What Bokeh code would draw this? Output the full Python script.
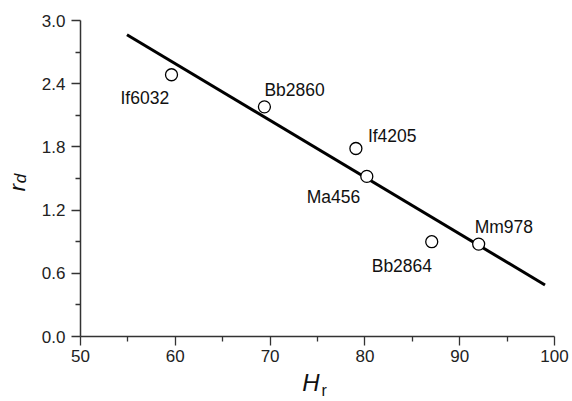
from bokeh.plotting import figure
from bokeh.models import ColumnDataSource, LabelSet, FixedTicker, Range1d, LinearAxis
from bokeh.core.properties import value
from bokeh.embed import file_html
from bokeh.resources import INLINE

# data
names = ["If6032", "Bb2860", "If4205", "Ma456", "Bb2864", "Mm978"]
hr = [59.6, 69.4, 79.05, 80.2, 87.05, 92.0]
rd = [2.485, 2.18, 1.785, 1.52, 0.90, 0.877]
fit_x = [54.9, 99.0]
fit_y = [2.864, 0.489]
x_ticks = [50, 60, 70, 80, 90, 100]
y_ticks = [0.0, 0.6, 1.2, 1.8, 2.4, 3.0]

# label offsets (pixels) for point annotations
lab_dx = [-51, 0, 12, -60, -60, -4]
lab_dy = [-23, 17, 12, -21, -24, 17]

FONT = "Liberation Sans"
NB = "\u00a0"

p = figure(width=572, height=401, output_backend="svg", toolbar_location=None,
           x_range=Range1d(50, 100), y_range=Range1d(0, 3.0),
           min_border_left=80, min_border_right=18, min_border_top=20, min_border_bottom=63)
p.outline_line_color = None
p.grid.visible = False
p.background_fill_color = "white"
p.border_fill_color = "white"

for ax in (p.xaxis[0], p.yaxis[0]):
    ax.axis_line_color = "#333333"
    ax.axis_line_width = 1.5
    ax.major_tick_line_color = "#333333"
    ax.minor_tick_line_color = "#333333"
    ax.major_tick_line_width = 1.3
    ax.minor_tick_line_width = 1.3
    ax.major_tick_in = 0
    ax.minor_tick_in = 0
    ax.major_tick_out = 9
    ax.minor_tick_out = 5
    ax.major_label_text_font = FONT
    ax.major_label_text_font_size = "17px"
    ax.major_label_text_color = "#222222"
    ax.axis_label_text_font = FONT
    ax.axis_label_text_font_style = "italic"
    ax.axis_label_text_color = "#111111"

p.xaxis.ticker = FixedTicker(ticks=x_ticks, minor_ticks=[55, 65, 75, 85, 95])
p.yaxis.ticker = FixedTicker(ticks=y_ticks, minor_ticks=[0.3, 0.9, 1.5, 2.1, 2.7])
p.yaxis.major_label_overrides = {t: f"{t:.1f}" for t in y_ticks}
p.xaxis.major_label_standoff = 4
p.yaxis.major_label_standoff = 6

# axis titles: main letter on the inner axis / subscript on an outer bare axis
p.xaxis.axis_label = "H" + NB * 2
p.xaxis.axis_label_text_font_size = "24px"
p.xaxis.axis_label_standoff = 4
p.yaxis.axis_label = "d"
p.yaxis.axis_label_text_font_size = "17px"
p.yaxis.axis_label_standoff = 9


def bare_axis(label, size, style, standoff):
    a = LinearAxis(ticker=FixedTicker(ticks=[]), axis_line_color=None,
                   major_tick_line_color=None, minor_tick_line_color=None,
                   major_tick_out=0, minor_tick_out=0, major_label_standoff=0,
                   axis_label=label, axis_label_text_font=FONT,
                   axis_label_text_font_size=size, axis_label_text_font_style=style,
                   axis_label_text_color="#111111", axis_label_standoff=standoff)
    return a


p.add_layout(bare_axis(NB * 3 + "r", "16px", "normal", -17), "below")
p.add_layout(bare_axis("r" + NB * 3, "22px", "italic", -22), "left")

p.line(fit_x, fit_y, line_color="black", line_width=3)

src = ColumnDataSource(dict(x=hr, y=rd, name=names, dx=lab_dx, dy=lab_dy))
p.scatter("x", "y", source=src, marker="circle", size=12, fill_color="white",
          line_color="black", line_width=1.3)
p.add_layout(LabelSet(x="x", y="y", text="name", x_offset="dx", y_offset="dy", source=src,
                      text_font=value(FONT), text_font_size=value("17.5px"), text_color="#111111",
                      text_baseline="middle", text_align="left"))

open("out.html", "w").write(file_html(p, INLINE))
